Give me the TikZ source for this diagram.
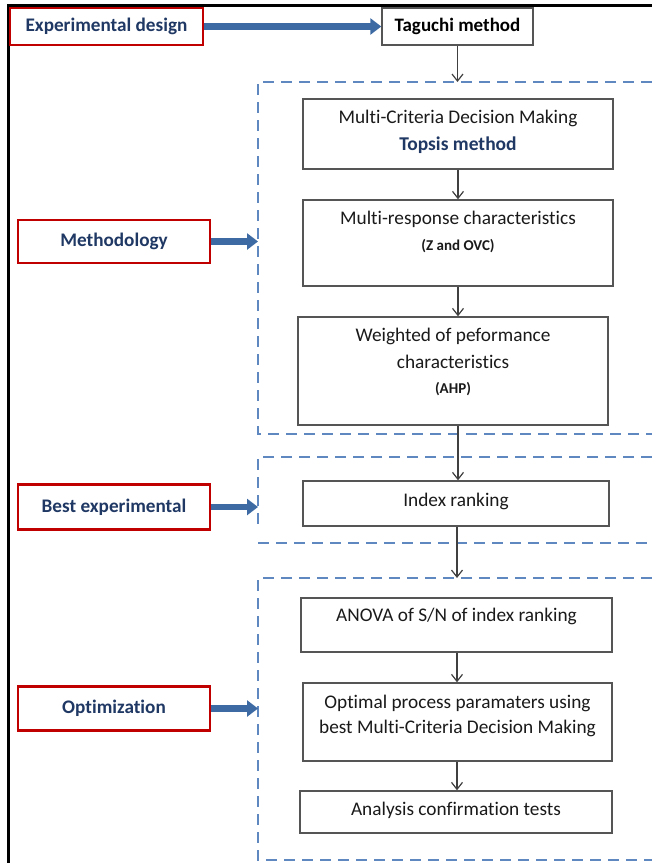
\documentclass[tikz,border=0pt]{standalone}
\usepackage{fontspec}
\setmainfont{Carlito}[Ligatures=NoCommon]
\usetikzlibrary{arrows.meta}
\definecolor{redc}{HTML}{C00000}
\definecolor{navy}{HTML}{1F3864}
\definecolor{dashblue}{HTML}{5F88C0}
\definecolor{bigblue}{HTML}{3E6AA3}
\definecolor{boxgray}{HTML}{555555}
\definecolor{txt}{HTML}{1A1A1A}
\tikzset{
  flowbox/.style={draw=boxgray, line width=1.4pt, fill=white, inner sep=0pt},
  redbox/.style={draw=redc, line width=2.8pt, fill=white, inner sep=0pt,
    minimum width=192pt, minimum height=43pt, text=navy,
    font=\bfseries\fontsize{19.2}{22}\selectfont},
  bigtxt/.style={text=txt, inner sep=0pt, font=\fontsize{19.3}{22}\selectfont},
  bluetxt/.style={text=navy, inner sep=0pt, font=\bfseries\fontsize{19.5}{22}\selectfont},
  smalltxt/.style={text=txt, inner sep=0pt, font=\bfseries\fontsize{15}{17}\selectfont},
  flowarrow/.style={draw=black!75, line width=1.2pt, -{Straight Barb[length=7pt,width=11pt]}},
  bigarrow/.style={draw=bigblue, line width=6.5pt, -{Triangle[length=11pt,width=16pt]}},
  dashbox/.style={draw=dashblue, line width=2.7pt, dash pattern=on 11pt off 7pt},
}
\begin{document}
\begin{tikzpicture}[x=1pt,y=-1pt]
\useasboundingbox (0,0) rectangle (652,863);
% outer frame
\draw[line width=3pt] (652,5) -- (8,5) -- (8,863);

% dashed groups
\draw[dashbox] (652,82) -- (258,82) -- (258,434) -- (652,434);
\draw[dashbox] (652,457) -- (258,457) -- (258,530);
\draw[dashbox] (258,543) -- (652,543);
\draw[dashbox] (652,578) -- (258,578) -- (258,860) -- (652,860);

% top row
\node[redbox, minimum width=193pt, minimum height=37pt] (exp) at (106.5,26.5) {Experimental design};
\node[flowbox, minimum width=151pt, minimum height=37pt, font=\bfseries\fontsize{19}{22}\selectfont, text=black] (tag) at (457.5,26.5) {Taguchi method};
\draw[bigarrow] (exp.east) -- (tag.west);

% left labels
\node[redbox] (meth) at (114,241.5) {Methodology};
\node[redbox, minimum height=45pt] (best) at (114,507) {Best experimental};
\node[redbox, minimum height=44pt] (opt) at (114,708.5) {Optimization};
\coordinate (mA) at (258,241.5);
\coordinate (bA) at (258,507);
\coordinate (oA) at (258,708.5);
\draw[bigarrow] (meth.east) -- (mA);
\draw[bigarrow] (best.east) -- (bA);
\draw[bigarrow] (opt.east) -- (oA);

% methodology boxes
\node[flowbox, minimum width=310pt, minimum height=70pt] (mcdm) at (458,134) {};
\node[bigtxt] (mcdmA) at (458,118) {Multi-Criteria Decision Making};
\node[bluetxt] (mcdmB) at (458,145) {Topsis method};

\node[flowbox, minimum width=310pt, minimum height=86pt] (mresp) at (458,243) {};
\node[bigtxt] (mrespA) at (458,219) {Multi-response characteristics};
\node[smalltxt] (mrespB) at (458,246) {(Z and OVC)};

\node[flowbox, minimum width=310pt, minimum height=108pt] (wgt) at (453,371) {};
\node[bigtxt] (wgtA) at (453,336) {Weighted of peformance};
\node[bigtxt] (wgtB) at (453,362) {characteristics};
\node[smalltxt] (wgtC) at (453,389) {(AHP)};

% best experimental
\node[flowbox, minimum width=306pt, minimum height=45pt] (idx) at (456,503.5) {};
\node[bigtxt] (idxT) at (456,501) {Index ranking};

% optimization
\node[flowbox, minimum width=311pt, minimum height=54pt] (anova) at (456.5,625) {};
\node[bigtxt] (anovaT) at (456.5,616) {ANOVA of S/N of index ranking};

\node[flowbox, minimum width=309pt, minimum height=78pt] (optp) at (457.5,722) {};
\node[bigtxt] (optpA) at (457.5,703) {Optimal process paramaters using};
\node[bigtxt] (optpB) at (457.5,728) {best Multi-Criteria Decision Making};

\node[flowbox, minimum width=312pt, minimum height=42pt] (conf) at (456,812) {};
\node[bigtxt] (confT) at (456,810) {Analysis confirmation tests};

% flow arrows
\coordinate (d1) at (457.5,82);
\draw[flowarrow] (tag.south) -- (d1);
\draw[flowarrow] (mcdm.south) -- (mcdm.south |- mresp.north);
\draw[flowarrow] (mresp.south) -- (mresp.south |- wgt.north);
\draw[flowarrow] (wgt.south -| mresp.south) -- (mresp.south |- idx.north);
\coordinate (d3) at (457,578);
\draw[flowarrow] (idx.south -| d3) -- (d3);
\draw[flowarrow] (anova.south -| d3) -- (d3 |- optp.north);
\draw[flowarrow] (optp.south -| d3) -- (d3 |- conf.north);
\end{tikzpicture}
\end{document}
